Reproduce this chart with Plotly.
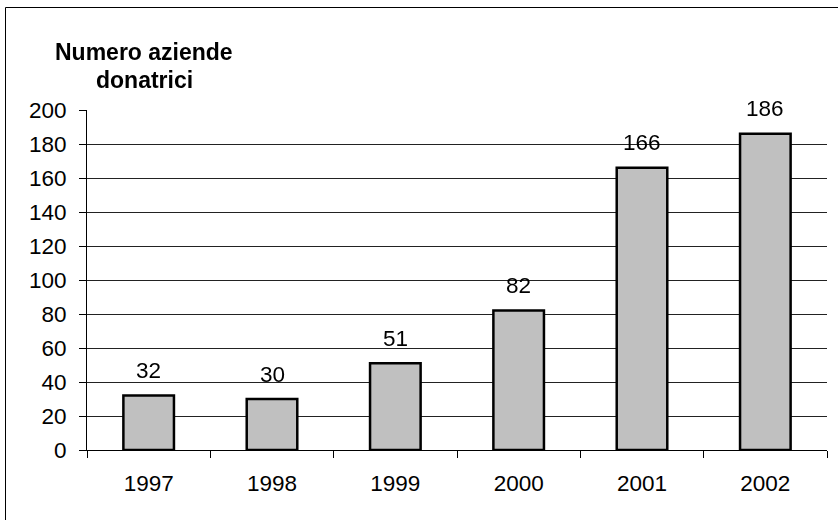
import plotly.graph_objects as go

years = ["1997", "1998", "1999", "2000", "2001", "2002"]
values = [32, 30, 51, 82, 166, 186]
y_ticks = [0, 20, 40, 60, 80, 100, 120, 140, 160, 180, 200]
grid_ticks = [20, 40, 60, 80, 100, 120, 140, 160, 180]
title_lines = ["Numero aziende", "donatrici"]

FONT = "Liberation Sans, Arial, sans-serif"
W, H = 838, 520
L, R, T, B = 87, 11, 110, 70
pw, ph = W - L - R, H - T - B

fig = go.Figure()
fig.add_trace(go.Bar(
    x=years, y=values, width=0.41,
    marker=dict(color="#C0C0C0", line=dict(color="black", width=2.5)),
    yaxis="y",
))
# invisible trace to anchor the grid axis
fig.add_trace(go.Scatter(x=years, y=values, mode="markers", opacity=0,
                         yaxis="y2", showlegend=False, hoverinfo="skip"))

annotations = []
for i, v in enumerate(values):
    annotations.append(dict(x=i, y=v, xref="x", yref="y", text=str(v),
                            showarrow=False, yshift=25,
                            xanchor="center", yanchor="middle",
                            font=dict(family=FONT, size=22.5, color="black")))
title_y = [52, 80]
for txt, py in zip(title_lines, title_y):
    annotations.append(dict(x=(144 - L) / pw, y=(H - B - py) / ph, xref="paper", yref="paper",
                            text="<b>%s</b>" % txt, showarrow=False,
                            xanchor="center", yanchor="middle",
                            font=dict(family=FONT, size=23, color="black")))

fig.update_layout(
    width=W, height=H,
    margin=dict(l=L, r=R, t=T, b=B, pad=0),
    paper_bgcolor="white", plot_bgcolor="white",
    showlegend=False,
    font=dict(family=FONT, size=22.5, color="black"),
    xaxis=dict(type="category", tickson="boundaries", ticks="outside", ticklen=7,
               tickcolor="black", tickwidth=1, showline=True, linecolor="black",
               linewidth=1, showgrid=False, range=[-0.5, 5.5], ticklabelstandoff=13,
               tickfont=dict(family=FONT, size=22.5, color="black")),
    yaxis=dict(range=[0, 200], tickvals=y_ticks, ticks="outside", ticklen=7,
               tickcolor="black", tickwidth=1, showline=True, linecolor="black",
               linewidth=1, showgrid=False, zeroline=False, ticklabelstandoff=8,
               tickfont=dict(family=FONT, size=22.5, color="black")),
    yaxis2=dict(range=[0, 200], tickvals=grid_ticks, overlaying="y", showgrid=True,
                gridcolor="#222222", gridwidth=1, showticklabels=False, ticks="",
                zeroline=False, showline=False),
    annotations=annotations,
    shapes=[dict(type="rect", xref="paper", yref="paper",
                 x0=(5.5 - L) / pw, x1=1.3, y0=-0.5, y1=(H - B - 7.5) / ph,
                 line=dict(color="black", width=1), fillcolor="rgba(0,0,0,0)",
                 layer="below")],
)

fig.write_html("out.html", config={"displayModeBar": False},
               post_script="document.body.style.margin='0';")
